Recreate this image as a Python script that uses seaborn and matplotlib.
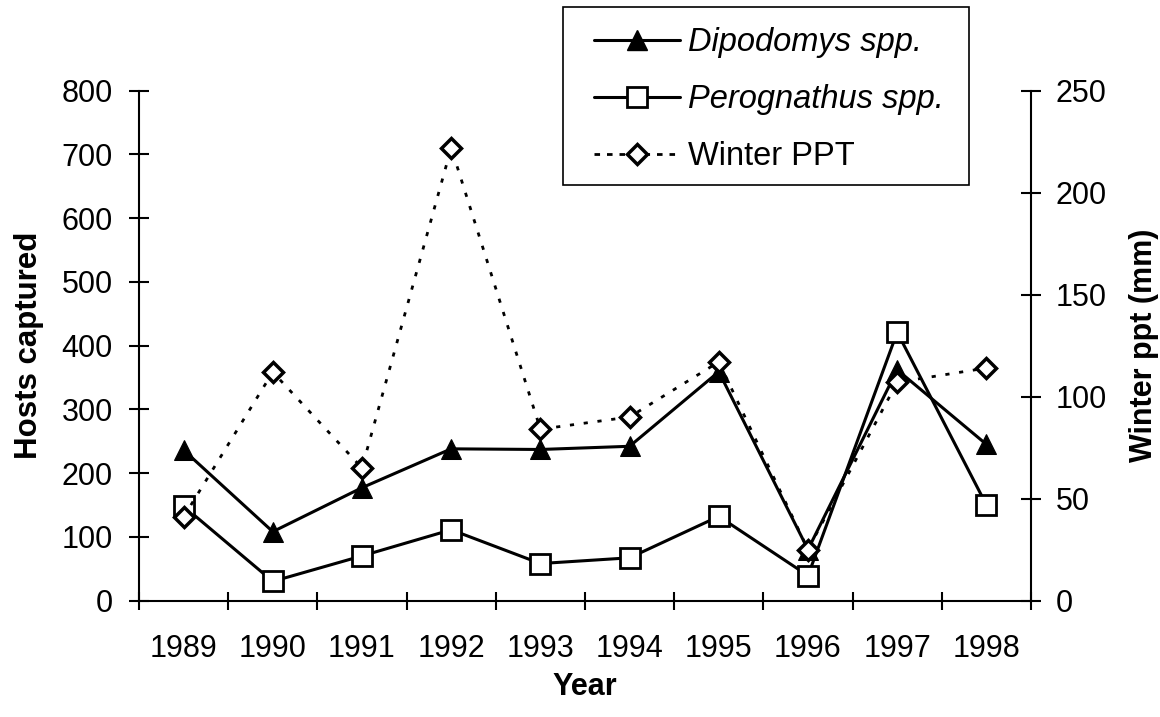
import matplotlib
matplotlib.use("Agg")
import matplotlib.pyplot as plt
import seaborn as sns
import numpy as np
from matplotlib.ticker import FixedLocator, NullFormatter
from matplotlib.lines import Line2D
from matplotlib.patches import Rectangle

years = [1989, 1990, 1991, 1992, 1993, 1994, 1995, 1996, 1997, 1998]
dipodomys = [236, 108, 177, 238, 237, 242, 359, 80, 362, 245]
perognathus = [148, 30, 70, 111, 58, 67, 132, 39, 421, 150]
winter_ppt = [41, 112, 65, 222, 84, 90, 117, 25, 107, 114]

left_ticks = [0, 100, 200, 300, 400, 500, 600, 700, 800]
right_ticks = [0, 50, 100, 150, 200, 250]

sns.set_theme(style="white")
plt.rcParams['font.family'] = ['Liberation Sans', 'DejaVu Sans']
plt.rcParams['text.color'] = 'black'
plt.rcParams['axes.labelcolor'] = 'black'
plt.rcParams['xtick.color'] = 'black'
plt.rcParams['ytick.color'] = 'black'

W, H = 1160, 717
fig = plt.figure(figsize=(W/100, H/100), dpi=100)
ax = fig.add_axes([139/W, 1-600.5/H, (1031-139)/W, (600.5-90.7)/H])
ax2 = ax.twinx()

FS = 22
LW = 2.2
DOT = (0, (1.5, 3.5))
sns.lineplot(x=years, y=dipodomys, ax=ax, color='black', linewidth=LW,
             marker='^', markersize=15, markeredgecolor='black', markerfacecolor='black',
             label='Dipodomys spp.', legend=False)
sns.lineplot(x=years, y=perognathus, ax=ax, color='black', linewidth=LW,
             marker='s', markersize=14, markeredgecolor='black', markerfacecolor='white',
             markeredgewidth=2, label='Perognathus spp.', legend=False)
sns.lineplot(x=years, y=winter_ppt, ax=ax2, color='black', linewidth=2.0,
             linestyle=DOT, marker='D', markersize=10,
             markeredgecolor='black', markerfacecolor='white', markeredgewidth=2.5,
             label='Winter PPT', legend=False)

ax.set_xlim(years[0]-0.5, years[-1]+0.5)
ax.set_ylim(0, 800)
ax2.set_ylim(0, 250)
ax.set_yticks(left_ticks)
ax2.set_yticks(right_ticks)
ax.set_xticks(years)
ax.set_xticklabels([str(y) for y in years])
ax.xaxis.set_minor_locator(FixedLocator(list(np.arange(years[0]-0.5, years[-1]+0.6, 1.0))))
ax.xaxis.set_minor_formatter(NullFormatter())

for a in (ax, ax2):
    for s in a.spines.values():
        s.set_color('black')
        s.set_linewidth(1.5)
    a.spines['top'].set_visible(False)
    a.grid(False)
ax.spines['right'].set_visible(False)
ax2.spines['left'].set_visible(False)
ax2.spines['bottom'].set_visible(False)

ax.tick_params(axis='y', which='major', direction='inout', length=13.7, width=1.5,
               labelsize=FS, pad=12, colors='black', left=True)
ax2.tick_params(axis='y', which='major', direction='inout', length=13.7, width=1.5,
                labelsize=FS, pad=11, colors='black', right=True)
ax.tick_params(axis='x', which='major', length=0, labelsize=FS, pad=24, colors='black')
ax.tick_params(axis='x', which='minor', direction='inout', length=13, width=1.5,
               bottom=True, colors='black')

ax.set_xlabel('Year', fontsize=FS, fontweight='bold', labelpad=6)
ax.set_ylabel('Hosts captured', fontsize=22.5, fontweight='bold', labelpad=13)
ax2.set_ylabel('Winter ppt (mm)', fontsize=FS, fontweight='bold', labelpad=16)

h1 = Line2D([], [], color='black', linewidth=LW, marker='^', markersize=15,
            markerfacecolor='black', markeredgecolor='black')
h2 = Line2D([], [], color='black', linewidth=LW, marker='s', markersize=14,
            markerfacecolor='white', markeredgecolor='black', markeredgewidth=2)
h3 = Line2D([], [], color='black', linewidth=2.0, linestyle=(0, (2, 2.5)), marker='D',
            markersize=10, markerfacecolor='white', markeredgecolor='black', markeredgewidth=2.5)
LFS = 23.5
leg = fig.legend([h1, h2, h3], ['Dipodomys spp.', 'Perognathus spp.', 'Winter PPT'],
                 loc='upper left', bbox_to_anchor=(594/W, 1-27/H),
                 bbox_transform=fig.transFigure, fontsize=LFS, frameon=False,
                 handlelength=2.64, labelspacing=0.8, borderpad=0.0, handletextpad=0.25,
                 borderaxespad=0)
leg.get_texts()[0].set_fontstyle('italic')
leg.get_texts()[1].set_fontstyle('italic')
fig.patches.append(Rectangle((563/W, 1-185/H), (969-563)/W, (185-7)/H,
                             transform=fig.transFigure, fill=False,
                             edgecolor='black', linewidth=1.2, zorder=5))

fig.savefig('out.png', dpi=100, facecolor='white')
